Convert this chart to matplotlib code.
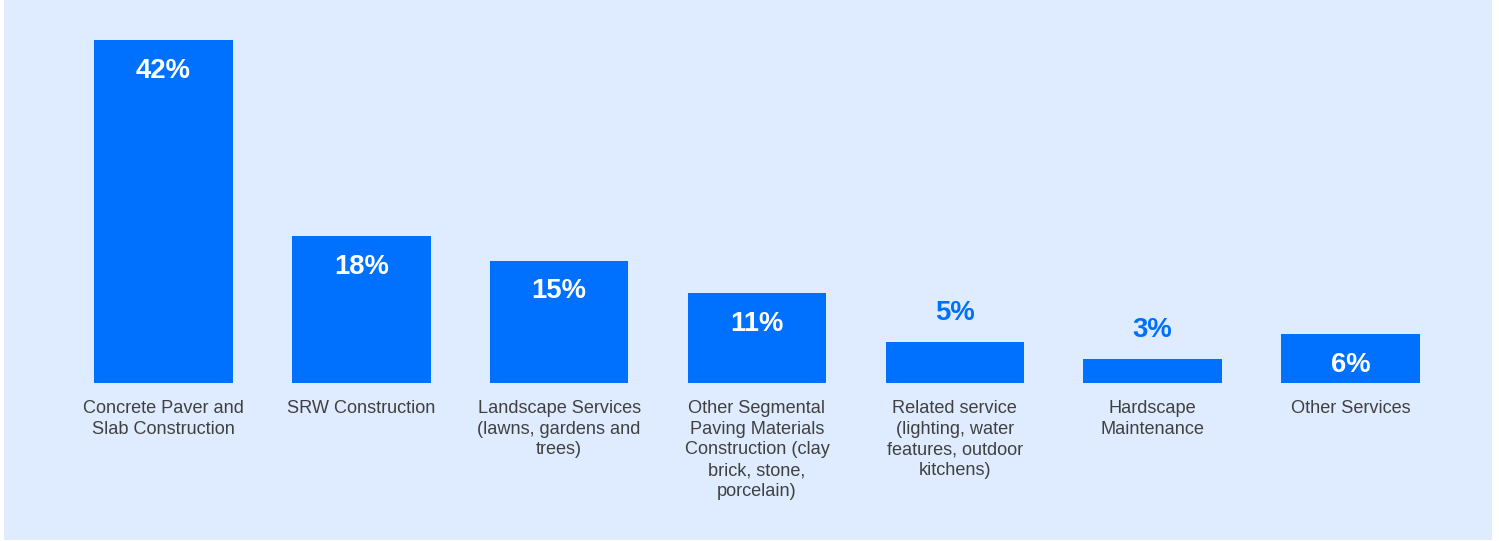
import matplotlib
matplotlib.use("Agg")
import matplotlib.pyplot as plt
from matplotlib.patches import Rectangle

categories = [
    "Concrete Paver and\nSlab Construction",
    "SRW Construction",
    "Landscape Services\n(lawns, gardens and\ntrees)",
    "Other Segmental\nPaving Materials\nConstruction (clay\nbrick, stone,\nporcelain)",
    "Related service\n(lighting, water\nfeatures, outdoor\nkitchens)",
    "Hardscape\nMaintenance",
    "Other Services",
]
shares = [42, 18, 15, 11, 5, 3, 6]
value_labels = ["42%", "18%", "15%", "11%", "5%", "3%", "6%"]

BAR = "#0070FF"
PANEL = "#DFECFF"
TEXT = "#404040"

plt.rcParams["font.family"] = ["Liberation Sans", "DejaVu Sans"]

W, H, DPI = 1499, 541, 100
fig = plt.figure(figsize=(W / DPI, H / DPI), dpi=DPI, facecolor="white")

# light blue panel behind the chart
fig.patches.append(Rectangle((4 / W, 1 / H), (1492 - 4) / W, (H - 1) / H,
                             transform=fig.transFigure, facecolor=PANEL,
                             edgecolor="none", zorder=-10))

left, right = 64.5, 1449.5
bottom_px, top_px = 383, 40
ax = fig.add_axes([left / W, (H - bottom_px) / H,
                   (right - left) / W, (bottom_px - top_px) / H])
ax.set_facecolor("none")
ax.set_xlim(-0.5, len(categories) - 0.5)
ax.set_ylim(0, max(shares))
ax.axis("off")

x = list(range(len(categories)))
ax.bar(x, shares, width=0.70, color=BAR, zorder=2)

for i, (v, lab, cat) in enumerate(zip(shares, value_labels, categories)):
    inside = v >= 6
    ax.annotate(lab, (i, v), xytext=(0, -22.2 if inside else 20.8),
                textcoords="offset points", ha="center", va="center",
                fontsize=19.8, fontweight="bold",
                color="white" if inside else BAR, zorder=3,
                annotation_clip=False)
    ax.annotate(cat, (i, 0), xytext=(0, -12), textcoords="offset points",
                ha="center", va="top", multialignment="center",
                fontsize=13.1, color=TEXT, linespacing=1.30,
                annotation_clip=False)

fig.savefig("out.png", dpi=DPI, facecolor="white")
